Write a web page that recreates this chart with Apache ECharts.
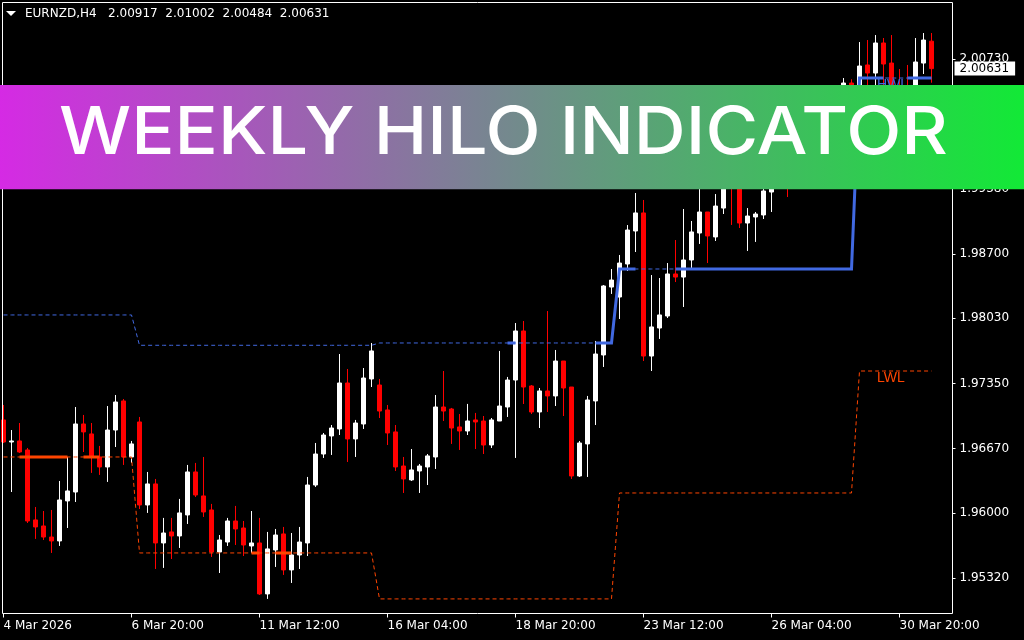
<!DOCTYPE html>
<html><head><meta charset="utf-8">
<script src="https://cdn.jsdelivr.net/npm/echarts@6/dist/echarts.min.js"></script>
<style>html,body{margin:0;padding:0;background:#000;}#c{width:1024px;height:640px;}</style>
</head><body><div id="c"></div>
<script>
const symbolName = 'EURNZD,H4';
const xTickLabels = ['4 Mar 2026','6 Mar 20:00','11 Mar 12:00','16 Mar 04:00','18 Mar 20:00','23 Mar 12:00','26 Mar 04:00','30 Mar 20:00'];
const yTickValues = [1.95320,1.96000,1.96670,1.97350,1.98030,1.98700,1.99380,2.00050,2.00730];

const open = [1.96970,1.96740,1.96751,1.96657,1.95928,1.95865,1.95750,1.95709,1.96126,1.96219,
1.96928,1.96824,1.96584,1.96480,1.96865,1.97168,1.96584,1.96949,1.96084,1.96303,
1.95688,1.95803,1.95761,1.95980,1.96428,1.96178,1.96032,1.95594,1.95698,1.95917,
1.95844,1.95657,1.95688,1.95157,1.95615,1.95782,1.95407,1.95563,1.95688,1.96292,
1.96615,1.96803,1.96876,1.97355,1.96772,1.96928,1.97397,1.97334,1.97074,1.96845,
1.96490,1.96345,1.96438,1.96480,1.96584,1.97105,1.97084,1.96897,1.96855,1.96970,
1.96959,1.96709,1.96959,1.97105,1.97386,1.97897,1.97324,1.97053,1.97272,1.97220,
1.97584,1.97313,1.96386,1.96720,1.97168,1.97647,1.98355,1.98251,1.98595,1.98939,
1.99127,1.97636,1.97928,1.98053,1.98491,1.98459,1.98637,1.98918,1.99137,1.98877,
1.99178,1.99523,1.99408,1.99022,1.99085,1.99106,1.99345,1.99554,1.99783,1.99523,
1.99887,2.00096,1.99835,2.00200,2.00356,2.00221,2.00481,2.00325,2.00669,2.00585,
2.00898,2.00689,2.00356,2.00117,1.99992,2.00689,2.00917];
const high = [1.97126,1.96865,1.96938,1.96678,1.96063,1.96021,1.96032,1.96334,1.96584,1.97105,
1.97022,1.96938,1.96699,1.97115,1.97230,1.97188,1.96751,1.97001,1.96428,1.96355,
1.95949,1.95949,1.96147,1.96501,1.96522,1.96584,1.96095,1.95771,1.95949,1.96074,
1.95917,1.96021,1.95949,1.95803,1.95834,1.95855,1.95792,1.95855,1.96376,1.96730,
1.96834,1.96917,1.97657,1.97501,1.96970,1.97511,1.97772,1.97397,1.97126,1.96917,
1.96584,1.96667,1.96511,1.96615,1.97230,1.97480,1.97095,1.97032,1.97137,1.97043,
1.97011,1.96990,1.97689,1.97418,1.97980,1.98001,1.97334,1.97303,1.98105,1.97699,
1.97584,1.97313,1.96751,1.97220,1.97793,1.98376,1.98543,1.98689,1.99001,1.99335,
1.99262,1.98480,1.98449,1.98605,1.98845,1.99168,1.99043,1.99376,1.99137,1.99324,
1.99575,1.99627,1.99470,1.99178,1.99137,1.99408,1.99679,1.99835,1.99887,1.99971,
2.00179,2.00200,2.00304,2.00408,2.00429,2.00533,2.00520,2.00908,2.00929,2.00981,
2.00950,2.00981,2.00627,2.00669,2.00950,2.01002,2.01002];
const low = [1.96730,1.96219,1.96626,1.95896,1.95730,1.95719,1.95584,1.95657,1.95844,1.96115,
1.96636,1.96418,1.96397,1.96324,1.96688,1.96501,1.96522,1.96042,1.96001,1.95417,
1.95428,1.95521,1.95636,1.95886,1.96167,1.95959,1.95542,1.95375,1.95657,1.95667,
1.95552,1.95584,1.95146,1.95105,1.95438,1.95355,1.95271,1.95417,1.95552,1.96272,
1.96574,1.96605,1.96813,1.96532,1.96584,1.96876,1.97313,1.96990,1.96709,1.96438,
1.96209,1.96334,1.96209,1.96292,1.96459,1.96959,1.96720,1.96657,1.96813,1.96667,
1.96615,1.96678,1.96959,1.97001,1.96574,1.97136,1.97032,1.96886,1.97053,1.97115,
1.97011,1.96355,1.96376,1.96376,1.96917,1.97522,1.98283,1.98022,1.98522,1.98720,
1.97584,1.97480,1.97814,1.98032,1.98407,1.98147,1.98553,1.98804,1.98605,1.98835,
1.99116,1.99002,1.98970,1.98731,1.98825,1.99064,1.99137,1.99491,1.99293,1.99450,
1.99783,1.99731,1.99762,2.00096,2.00044,2.00148,2.00179,2.00262,2.00356,2.00387,
2.00346,2.00200,2.00033,1.99908,1.99929,2.00575,2.00484];
const close = [1.96740,1.96751,1.96636,1.95917,1.95855,1.95750,1.95709,1.96136,1.96230,1.96928,
1.96845,1.96584,1.96480,1.96865,1.97157,1.96584,1.96720,1.96084,1.96303,1.95688,
1.95792,1.95761,1.96001,1.96428,1.96188,1.96011,1.95594,1.95719,1.95917,1.95834,
1.95667,1.95688,1.95157,1.95626,1.95771,1.95407,1.95563,1.95698,1.96292,1.96615,
1.96813,1.96886,1.97355,1.96772,1.96938,1.97407,1.97689,1.97063,1.96834,1.96480,
1.96355,1.96449,1.96490,1.96595,1.97105,1.97063,1.96886,1.96855,1.96959,1.96949,
1.96709,1.96970,1.97115,1.97386,1.97897,1.97313,1.97053,1.97272,1.97220,1.97584,
1.97303,1.96386,1.96730,1.97178,1.97657,1.98366,1.98428,1.98605,1.98949,1.99127,
1.97636,1.97939,1.98064,1.98491,1.98459,1.98637,1.98929,1.99137,1.98887,1.99199,
1.99470,1.99408,1.99022,1.99095,1.99116,1.99356,1.99575,1.99783,1.99523,1.99887,
2.00096,1.99835,2.00200,2.00356,2.00200,2.00481,2.00304,2.00658,2.00585,2.00898,
2.00679,2.00304,2.00096,1.99971,2.00700,2.00929,2.00631];

// weekly levels (previous week's high / low), by first bar of each week
const weekStartBars = [0,17,47,77,107];
const hwlLevels = [1.98064,1.97748,1.97772,1.98543,2.00533];
const lwlLevels = [1.96584,1.95584,1.95105,1.96209,1.97480];
// bar ranges where the indicator draws its thick segment
const hwlThickBars = [[63,64],[74,79],[84,110],[113,116]];
const lwlThickBars = [[2,8],[10,12],[31,32],[34,36]];

const slotCount = 119;
const categories = Array.from({length: slotCount}, (_, i) => String(i));
const barCount = open.length;
const candleData = open.map((o, i) => [o, close[i], low[i], high[i]]);

function levelAt(levels, i) {
  let w = 0;
  for (let k = 0; k < weekStartBars.length; k++) if (i >= weekStartBars[k]) w = k;
  return levels[w];
}
const hwlLine = categories.map((c, i) => i < barCount ? levelAt(hwlLevels, i) : null);
const lwlLine = categories.map((c, i) => i < barCount ? levelAt(lwlLevels, i) : null);
function thick(levels, ranges) {
  return categories.map((c, i) => ranges.some(r => i >= r[0] && i <= r[1]) ? levelAt(levels, i) : null);
}
const hwlThick = thick(hwlLevels, hwlThickBars);
const lwlThick = thick(lwlLevels, lwlThickBars);

const lastO = open[barCount-1], lastH = high[barCount-1], lastL = low[barCount-1], lastC = close[barCount-1];
const titleText = symbolName + '   ' + [lastO, lastH, lastL, lastC].map(v => v.toFixed(5)).join('  ');

const BLUE = '#4169e1', ORANGE = '#ff4500';
const FONT = 'DejaVu Sans';
const yMin = 1.94953, yMax = 2.01320;

const chart = echarts.init(document.getElementById('c'), null, {renderer: 'canvas'});
chart.setOption({
  animation: false,
  backgroundColor: '#000',
  grid: {left: 3.5, right: 76.5, top: 2.5, bottom: 26.5, containLabel: false},
  xAxis: {
    type: 'category', data: categories, boundaryGap: false,
    axisLine: {show: false},
    axisTick: {show: true, length: 4, interval: (i) => i % 16 === 0, lineStyle: {color: '#fff', width: 1}},
    axisLabel: {interval: (i) => i % 16 === 0, formatter: (v, i) => xTickLabels[i / 16] || '',
      color: '#fff', fontFamily: FONT, fontSize: 12, align: 'left', margin: 6},
    splitLine: {show: false}
  },
  yAxis: [{
    type: 'value', position: 'right', offset: 5, min: yMin, max: yMax, scale: true,
    axisLine: {show: false}, splitLine: {show: false},
    axisTick: {show: true, length: 3, customValues: yTickValues, lineStyle: {color: '#fff'}},
    axisLabel: {customValues: yTickValues, formatter: v => v.toFixed(5), color: '#fff',
      fontFamily: FONT, fontSize: 12, margin: 7}
  }, {
    type: 'value', position: 'right', offset: 5, min: yMin, max: yMax, scale: true,
    axisLine: {show: false}, splitLine: {show: false}, axisTick: {show: false},
    axisLabel: {customValues: [lastC], formatter: v => v.toFixed(5), color: '#000',
      backgroundColor: '#fff', padding: [1, 6, 1, 5], fontFamily: FONT, fontSize: 12, margin: 2}
  }],
  series: [{
    type: 'candlestick', data: candleData, barWidth: 4, z: 2,
    itemStyle: {color: '#fff', color0: '#ff0000', borderColor: '#fff', borderColor0: '#ff0000',
      borderColorDoji: '#fff', borderWidth: 1}
  }, {
    type: 'line', data: hwlLine, symbol: 'none', z: 3, silent: true,
    lineStyle: {color: BLUE, width: 1, type: [4, 3]},
    markPoint: {symbol: 'rect', symbolSize: 0, silent: true, data: [{coord: [109, hwlLevels[4]],
      label: {show: true, formatter: 'HWL', color: BLUE, fontFamily: 'Liberation Sans', fontSize: 14,
        position: [1.5, 0], align: 'left', verticalAlign: 'top'}}]}
  }, {
    type: 'line', data: lwlLine, symbol: 'none', z: 3, silent: true,
    lineStyle: {color: ORANGE, width: 1, type: [4, 3]},
    markPoint: {symbol: 'rect', symbolSize: 0, silent: true, data: [{coord: [109, lwlLevels[4]],
      label: {show: true, formatter: 'LWL', color: ORANGE, fontFamily: 'Liberation Sans', fontSize: 14,
        position: [1.5, 0], align: 'left', verticalAlign: 'top'}}]}
  }, {
    type: 'line', data: hwlThick, symbol: 'none', z: 4, silent: true, connectNulls: false,
    lineStyle: {color: BLUE, width: 3, cap: 'butt', join: 'miter'}
  }, {
    type: 'line', data: lwlThick, symbol: 'none', z: 4, silent: true, connectNulls: false,
    lineStyle: {color: ORANGE, width: 3, cap: 'butt', join: 'miter'}
  }],
  graphic: {elements: [
    {type: 'rect', z: 50, silent: true, shape: {x: 2.5, y: 2.5, width: 950, height: 611},
      style: {fill: null, stroke: '#fff', lineWidth: 1}},
    {type: 'polygon', z: 50, silent: true, shape: {points: [[6, 11], [16, 11], [11, 16]]}, style: {fill: '#fff'}},
    {type: 'text', z: 50, silent: true, x: 25, y: 14,
      style: {text: titleText, fill: '#fff', font: '12px "DejaVu Sans"', align: 'left', verticalAlign: 'middle',
        textAlign: 'left', textVerticalAlign: 'middle'}},
    {type: 'rect', z: 100, silent: true, shape: {x: 0, y: 85, width: 1024, height: 104.3},
      style: {fill: new echarts.graphic.LinearGradient(0, 0, 1, 0, [
        {offset: 0, color: '#d52ae4'}, {offset: 1, color: '#12e936'}])}},
    {type: 'text', z: 101, silent: true, x: 503.5, y: 134, scaleX: 1.09,
      style: {text: 'WEEKLY HILO INDICATOR', fill: '#fff', font: '500 66px Inter',
        align: 'center', verticalAlign: 'middle', textAlign: 'center', textVerticalAlign: 'middle'}}
  ]}
});
</script></body></html>
